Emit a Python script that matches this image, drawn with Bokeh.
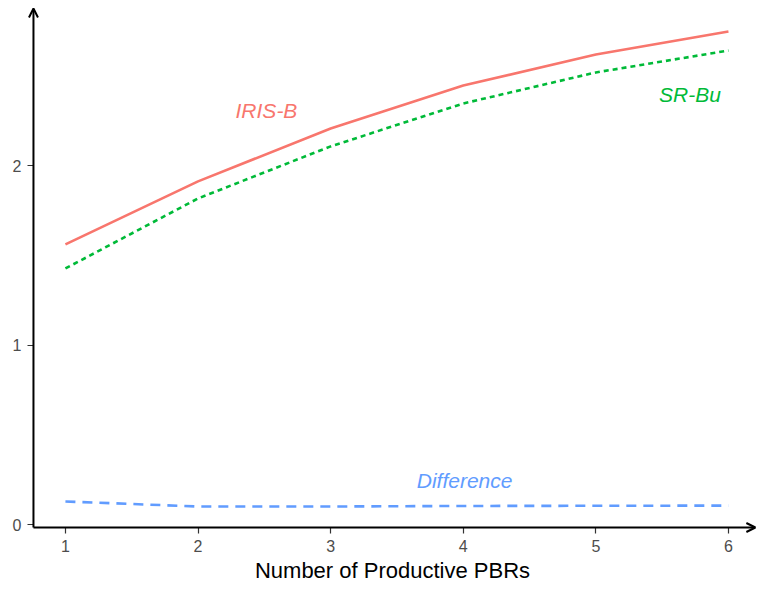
from bokeh.plotting import figure
from bokeh.models import Range1d, Arrow, OpenHead, Label, FixedTicker
from bokeh.embed import file_html
from bokeh.resources import INLINE

pbrs = [1, 2, 3, 4, 5, 6]
iris_b = [1.563, 1.914, 2.209, 2.448, 2.621, 2.749]
sr_bu = [1.429, 1.819, 2.109, 2.348, 2.521, 2.643]
difference = [0.131, 0.103, 0.103, 0.106, 0.107, 0.108]

x_ticks = [1, 2, 3, 4, 5, 6]
y_ticks = [0, 1, 2]

FONT = "Liberation Sans"

# axis arrow positions (data units)
ax_x0, ax_x1 = 0.759, 6.203
ax_y0, ax_y1 = -0.014, 2.877

p = figure(width=757, height=589, output_backend="svg", toolbar_location=None,
           x_range=Range1d(0.714, 6.219), y_range=Range1d(-0.0474, 2.905),
           min_border_left=27, min_border_right=0, min_border_top=3, min_border_bottom=56)
p.outline_line_color = None
p.xgrid.visible = False
p.ygrid.visible = False
p.background_fill_color = "white"

for ax in (p.xaxis[0], p.yaxis[0]):
    ax.axis_line_color = None
    ax.major_tick_line_color = "#333333"
    ax.major_tick_line_width = 1.2
    ax.major_tick_out = 0
    ax.major_tick_in = 6
    ax.minor_tick_line_color = None
    ax.major_label_text_font = FONT
    ax.major_label_text_font_size = "16px"
    ax.major_label_text_color = "#4D4D4D"
p.xaxis.ticker = FixedTicker(ticks=x_ticks)
p.yaxis.ticker = FixedTicker(ticks=y_ticks)
p.xaxis.major_label_standoff = 6
p.yaxis.major_label_standoff = 6
p.xaxis.axis_label = "Number of Productive PBRs"
p.xaxis.axis_label_text_font = FONT
p.xaxis.axis_label_text_font_style = "normal"
p.xaxis.axis_label_text_font_size = "22px"
p.xaxis.axis_label_text_color = "black"
p.xaxis.axis_label_standoff = 3

p.line(pbrs, iris_b, line_color="#F8766D", line_width=2.6)
p.line(pbrs, sr_bu, line_color="#00BA38", line_width=2.6, line_dash="5 4")
p.line(pbrs, difference, line_color="#619CFF", line_width=2.6, line_dash="10 7")

p.add_layout(Arrow(x_start=ax_x0, y_start=ax_y0, x_end=ax_x1, y_end=ax_y0,
                   line_color="black", line_width=2,
                   end=OpenHead(size=9, line_color="black", line_width=2)))
p.add_layout(Arrow(x_start=ax_x0, y_start=ax_y0, x_end=ax_x0, y_end=ax_y1,
                   line_color="black", line_width=2,
                   end=OpenHead(size=9, line_color="black", line_width=2)))

labels = [("IRIS-B", 2.516, 2.309, "#F8766D"),
          ("SR-Bu", 5.71, 2.398, "#00BA38"),
          ("Difference", 4.01, 0.248, "#619CFF")]
for txt, lx, ly, col in labels:
    p.add_layout(Label(x=lx, y=ly, text=txt, text_color=col, text_font=FONT,
                       text_font_style="italic", text_font_size="21px",
                       text_align="center", text_baseline="middle"))

open("out.html", "w").write(file_html(p, INLINE))
